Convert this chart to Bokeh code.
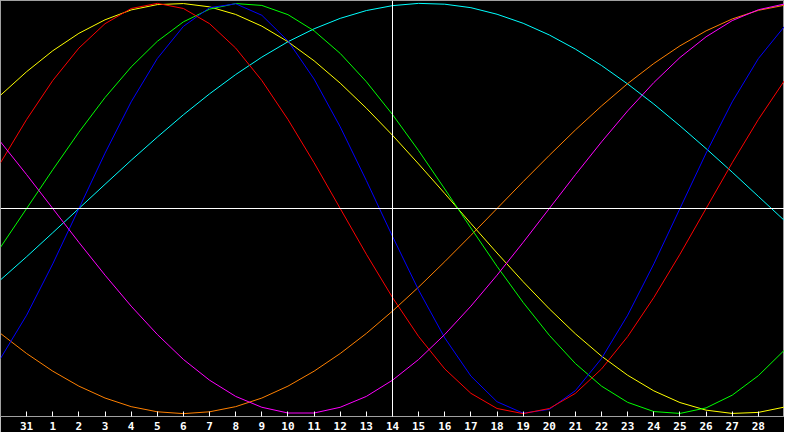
from bokeh.plotting import figure
from bokeh.models import Range1d, FixedTicker, Span
from bokeh.embed import file_html
from bokeh.resources import INLINE

# Day labels along the bottom (previous month's 31st, then 1..28)
day_labels = ["31"] + [str(d) for d in range(1, 29)]
# day index for every sampled point (one point per day, left edge to right edge)
days = list(range(31))
today_index = 15  # position of the "14" label (vertical marker)

# Cycle values (-1 .. 1), one per day
blue_23 = [-0.731, -0.520, -0.270, 0.000, 0.270, 0.520, 0.731, 0.888, 0.979, 0.998,
           0.942, 0.817, 0.631, 0.398, 0.136, -0.136, -0.398, -0.631, -0.817, -0.942,
           -0.998, -0.979, -0.888, -0.731, -0.520, -0.270, 0.000, 0.270, 0.520, 0.731,
           0.888]
red_28 = [0.223, 0.434, 0.624, 0.782, 0.901, 0.975, 1.000, 0.975, 0.901, 0.782,
          0.624, 0.434, 0.223, 0.000, -0.223, -0.434, -0.624, -0.782, -0.901, -0.975,
          -1.000, -0.975, -0.901, -0.782, -0.624, -0.434, -0.223, 0.000, 0.223, 0.434,
          0.624]
green_33 = [-0.189, 0.000, 0.189, 0.372, 0.541, 0.690, 0.815, 0.910, 0.972, 0.999,
            0.990, 0.945, 0.866, 0.756, 0.618, 0.458, 0.282, 0.095, -0.095, -0.282,
            -0.458, -0.618, -0.756, -0.866, -0.945, -0.990, -0.999, -0.972, -0.910, -0.815,
            -0.690]
magenta_38 = [0.325, 0.165, 0.000, -0.165, -0.325, -0.476, -0.614, -0.736, -0.837, -0.916,
              -0.969, -0.997, -0.997, -0.969, -0.916, -0.837, -0.736, -0.614, -0.476, -0.325,
              -0.165, 0.000, 0.165, 0.325, 0.476, 0.614, 0.736, 0.837, 0.916, 0.969,
              0.997]
yellow_43 = [0.552, 0.667, 0.769, 0.854, 0.920, 0.968, 0.994, 0.999, 0.983, 0.946,
             0.889, 0.813, 0.720, 0.611, 0.489, 0.357, 0.217, 0.073, -0.073, -0.217,
             -0.357, -0.489, -0.611, -0.720, -0.813, -0.889, -0.946, -0.983, -0.999, -0.994,
             -0.968]
orange_48 = [-0.609, -0.707, -0.793, -0.866, -0.924, -0.966, -0.991, -1.000, -0.991, -0.966,
             -0.924, -0.866, -0.793, -0.707, -0.609, -0.500, -0.383, -0.259, -0.131, 0.000,
             0.131, 0.259, 0.383, 0.500, 0.609, 0.707, 0.793, 0.866, 0.924, 0.966,
             0.991]
cyan_53 = [-0.348, -0.235, -0.118, 0.000, 0.118, 0.235, 0.348, 0.457, 0.559, 0.653,
           0.738, 0.813, 0.876, 0.927, 0.965, 0.989, 1.000, 0.996, 0.979, 0.947,
           0.903, 0.846, 0.777, 0.697, 0.607, 0.509, 0.403, 0.292, 0.177, 0.059,
           -0.059]

series = [
    (cyan_53, "#00ffff"),
    (orange_48, "#ff8000"),
    (yellow_43, "#ffff00"),
    (green_33, "#00ff00"),
    (blue_23, "#0000ff"),
    (red_28, "#ff0000"),
    (magenta_38, "#ff00ff"),
]

p = figure(width=784, height=432, output_backend="svg", toolbar_location=None,
           x_range=Range1d(0, len(days) - 1), y_range=Range1d(-1.014, 1.014),
           background_fill_color="black", border_fill_color="black",
           min_border_left=0, min_border_right=0, min_border_top=0, min_border_bottom=0)
p.outline_line_color = "#a0a0a0"
p.outline_line_width = 1
p.xgrid.visible = False
p.ygrid.visible = False
p.yaxis.visible = False

tick_pos = list(range(1, len(day_labels) + 1))
ax = p.xaxis[0]
ax.ticker = FixedTicker(ticks=tick_pos)
ax.major_label_overrides = {t: lab for t, lab in zip(tick_pos, day_labels)}
ax.axis_line_color = "#a0a0a0"
ax.major_tick_line_color = "white"
ax.major_tick_in = 5
ax.major_tick_out = 0
ax.minor_tick_line_color = None
ax.major_label_text_color = "white"
ax.major_label_text_font = "DejaVu Sans Mono"
ax.major_label_text_font_style = "bold"
ax.major_label_text_font_size = "11px"
ax.major_label_standoff = 5

p.add_layout(Span(location=today_index, dimension="height", line_color="white", line_width=1))
p.add_layout(Span(location=0, dimension="width", line_color="white", line_width=1))

for vals, col in series:
    p.line(days, vals, line_color=col, line_width=1)

open("out.html", "w").write(file_html(p, INLINE))
